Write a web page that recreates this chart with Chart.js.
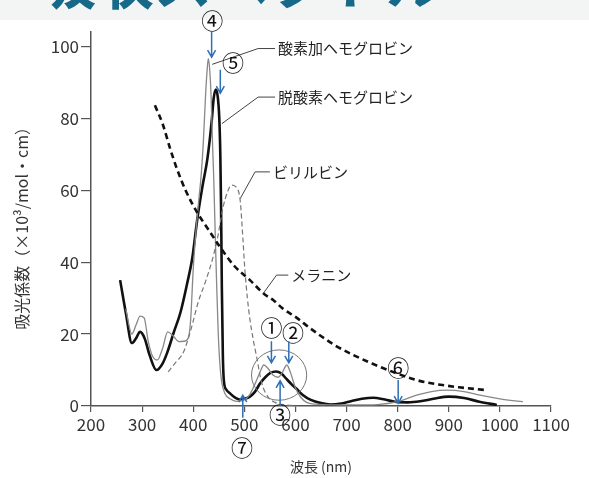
<!DOCTYPE html>
<html>
<head>
<meta charset="utf-8">
<script src="https://cdn.jsdelivr.net/npm/chart.js@4.4.1/dist/chart.umd.min.js"></script>
<style>
  html, body { margin: 0; padding: 0; background: #fff; }
</style>
</head>
<body>
<canvas id="spectrum" width="589" height="478"></canvas>
<script>
// 波長 (nm) と吸光係数 (×10^3/mol・cm) — 図から読み取った値
const deoxyNm  = [257,268,280,288,296,305,315,328,340,350,362,375,388,398,408,418,428,436,440,444,448,451,453,454.5,456,458,460,465,472,482,491,501,511,521,531,541,551,562,572,582,592,602,615,630,650,668,690,710,730,752,775,798,820,844,870,900,930,960,994];
const deoxyAbs = [35,26,17.5,18.8,20.6,18.8,14,10,11.8,15.2,20.5,26,34,41,52,61,69,79,85.5,88,86,80,70,55,33,14,7,4.5,3.5,2.3,1.8,2,2.6,4,6.3,8,9.2,9.6,9.1,7.6,6.1,4.8,3,1.7,0.8,0.4,0.7,1.4,2,2.3,1.8,1.1,1,1.3,2,2.6,2.2,1.2,0.3];

const oxyNm  = [268,280,288,296,304,312,320,330,340,350,360,372,382,390,395,400,405,410,416,420,424,427,429.5,432,435,438,440,443,446,449,452,456,462,472,485,497,510,522,531,538,546,556,566,575,583,591,600,610,622,640,680,720,760,800,837,866,896,930,961,1000,1045];
const oxyAbs = [27,20,22.5,25,24.5,18,14,12.8,16,20.6,19.6,17.9,18,18.8,24,38,48,56,65,74,86,93,96.6,94,86,72,64,48,33,20,12,6.5,3.5,2,1.3,1.5,3,6.5,9.5,11.4,10.5,8.6,8,9.5,11.4,9,5,2.5,1,0.5,0.3,0.3,0.4,1.2,3,4,4.4,4,3,2,1.2];

const biliNm  = [351,365,381,395,410,425,438,448,458,467,475,483,488,492,497,501,506,511,518,524,534,546,560,580,600];
const biliAbs = [9.5,12,15,21,29,35,41,47,55,59.5,61.4,61,60,57,47,38,30,24,18,13.7,6.4,2.6,1,0.3,0.1];

const melNm  = [325,340,355,368,385,407,430,452,480,511,540,557,576,600,630,676,713,750,798,837,880,920,974];
const melAbs = [83.6,78.5,71.5,66,60,54,49,44.3,39,35,31,29.4,27,24.8,21.5,17,14.2,11.8,9.1,7.2,6,5.2,4.4];

const yTicks = [0, 20, 40, 60, 80, 100];

const FONT = '"Noto Sans CJK JP", "Noto Sans", sans-serif';

function pts(xs, ys) {
    return xs.map((x, i) => ({ x: x, y: ys[i] }));
}

// 注記 (曲線名・丸数字・矢印) — データ座標で指定
const curveLabels = [
    { text: '酸素加ヘモグロビン', from: [437, 95],   knee: [527, 99.4], end: [560, 99.4] },
    { text: '脱酸素ヘモグロビン', from: [456, 78.5], knee: [527, 85.9], end: [560, 85.9] },
    { text: 'ビリルビン',         from: [492, 57.7], knee: [521, 65.1], end: [550, 65.1] },
    { text: 'メラニン',           from: [537, 31.3], knee: [563, 36.4], end: [586, 36.4] }
];
const marks = [
    { text: '④', at: [437, 107.2], arrow: [436, 104, 97] },
    { text: '⑤', at: [478, 95.6],  arrow: [453, 93.5, 87] },
    { text: '①', at: [553, 21.9],  arrow: [553, 18, 12] },
    { text: '②', at: [595, 20.3],  arrow: [587, 18, 12] },
    { text: '③', at: [570, -2.5],  arrow: [570, 0, 7] },
    { text: '⑥', at: [801, 10.6],  arrow: [801, 7.2, 0.8] },
    { text: '⑦', at: [495.5, -11.7], arrow: [497, -3.3, 3] }
];

const notesPlugin = {
    id: 'notes',
    beforeDraw(chart) {
        const ctx = chart.ctx;
        ctx.save();
        ctx.fillStyle = '#f3f4f4';
        ctx.fillRect(0, 0, chart.width, 20);
        ctx.beginPath();
        ctx.rect(0, 0, chart.width, 19);
        ctx.clip();
        ctx.fillStyle = '#17698a';
        ctx.font = 'bold 58px ' + FONT;
        ctx.textBaseline = 'alphabetic';
        ctx.fillText('吸収スペクトル', 38, 4);
        ctx.restore();
    },
    afterDatasetsDraw(chart) {
        const ctx = chart.ctx;
        const sx = chart.scales.x, sy = chart.scales.y;
        const P = (a, b) => [sx.getPixelForValue(a), sy.getPixelForValue(b)];
        ctx.save();

        // 楕円 (550-600nm)
        const c = P(568, 8.6);
        const rx = sx.getPixelForValue(568 + 54) - c[0];
        const ry = sy.getPixelForValue(8.6 - 7) - c[1];
        ctx.strokeStyle = '#777';
        ctx.lineWidth = 1;
        ctx.beginPath();
        ctx.ellipse(c[0], c[1], rx, ry, 0, 0, Math.PI * 2);
        ctx.stroke();

        // 曲線名と引出線
        ctx.strokeStyle = '#444';
        ctx.lineWidth = 1;
        ctx.fillStyle = '#222';
        ctx.font = '15px ' + FONT;
        ctx.textBaseline = 'middle';
        ctx.textAlign = 'left';
        curveLabels.forEach(l => {
            const a = P(...l.from), k = P(...l.knee), e = P(...l.end);
            ctx.beginPath();
            ctx.moveTo(a[0], a[1]);
            ctx.lineTo(k[0], k[1]);
            ctx.lineTo(e[0], e[1]);
            ctx.stroke();
            ctx.fillText(l.text, e[0] + 3, e[1]);
        });

        // 丸数字と青い矢印
        ctx.font = '22px ' + FONT;
        ctx.textAlign = 'center';
        marks.forEach(m => {
            const p = P(...m.at);
            ctx.fillStyle = '#111';
            ctx.fillText(m.text, p[0], p[1]);
            const s = P(m.arrow[0], m.arrow[1]);
            const t = P(m.arrow[0], m.arrow[2]);
            const dir = t[1] > s[1] ? 1 : -1;
            ctx.strokeStyle = '#2f6fb5';
            ctx.lineWidth = 1.5;
            ctx.beginPath();
            ctx.moveTo(s[0], s[1]);
            ctx.lineTo(t[0], t[1]);
            ctx.moveTo(t[0] - 4, t[1] - dir * 7);
            ctx.lineTo(t[0], t[1]);
            ctx.lineTo(t[0] + 4, t[1] - dir * 7);
            ctx.stroke();
        });
        ctx.restore();
    }
};

new Chart(document.getElementById('spectrum'), {
    type: 'line',
    data: {
        datasets: [
            { label: 'メラニン', data: pts(melNm, melAbs), borderColor: '#111', borderWidth: 2.6, borderDash: [6, 4] },
            { label: 'ビリルビン', data: pts(biliNm, biliAbs), borderColor: '#777', borderWidth: 1.2, borderDash: [5, 3] },
            { label: '酸素加ヘモグロビン', data: pts(oxyNm, oxyAbs), borderColor: '#888', borderWidth: 1.3 },
            { label: '脱酸素ヘモグロビン', data: pts(deoxyNm, deoxyAbs), borderColor: '#111', borderWidth: 2.6 }
        ]
    },
    options: {
        responsive: false,
        animation: false,
        layout: { padding: { top: 32, right: 38, left: 0, bottom: 0 } },
        elements: {
            point: { radius: 0 },
            line: { cubicInterpolationMode: 'monotone', fill: false }
        },
        plugins: {
            legend: { display: false },
            tooltip: { enabled: false }
        },
        scales: {
            x: {
                type: 'linear',
                min: 200,
                max: 1100,
                afterFit: s => { s.height = 72; },
                ticks: { stepSize: 100, color: '#333', font: { size: 17, family: FONT }, padding: 2, maxRotation: 0, autoSkip: false, callback: v => String(v) },
                grid: { drawOnChartArea: false, tickLength: 6, color: '#555', lineWidth: 1.2 },
                border: { color: '#555', width: 1.5 },
                title: { display: true, text: '波長 (nm)', color: '#333', font: { size: 14, family: FONT }, padding: { top: 0, bottom: 3 } }
            },
            y: {
                min: 0,
                max: 104,
                afterFit: s => { s.width = 91; },
                afterBuildTicks: s => { s.ticks = yTicks.map(v => ({ value: v })); },
                ticks: { color: '#333', font: { size: 17, family: FONT }, padding: 2, callback: v => String(v) },
                grid: { drawOnChartArea: false, tickLength: 10, color: '#555', lineWidth: 1.2 },
                border: { color: '#555', width: 1.5 },
                title: { display: true, text: '吸光係数（×10³/mol・cm）   ', color: '#333', font: { size: 16, family: FONT }, padding: { top: 12, bottom: 0 } }
            }
        }
    },
    plugins: [notesPlugin]
});
</script>
</body>
</html>
